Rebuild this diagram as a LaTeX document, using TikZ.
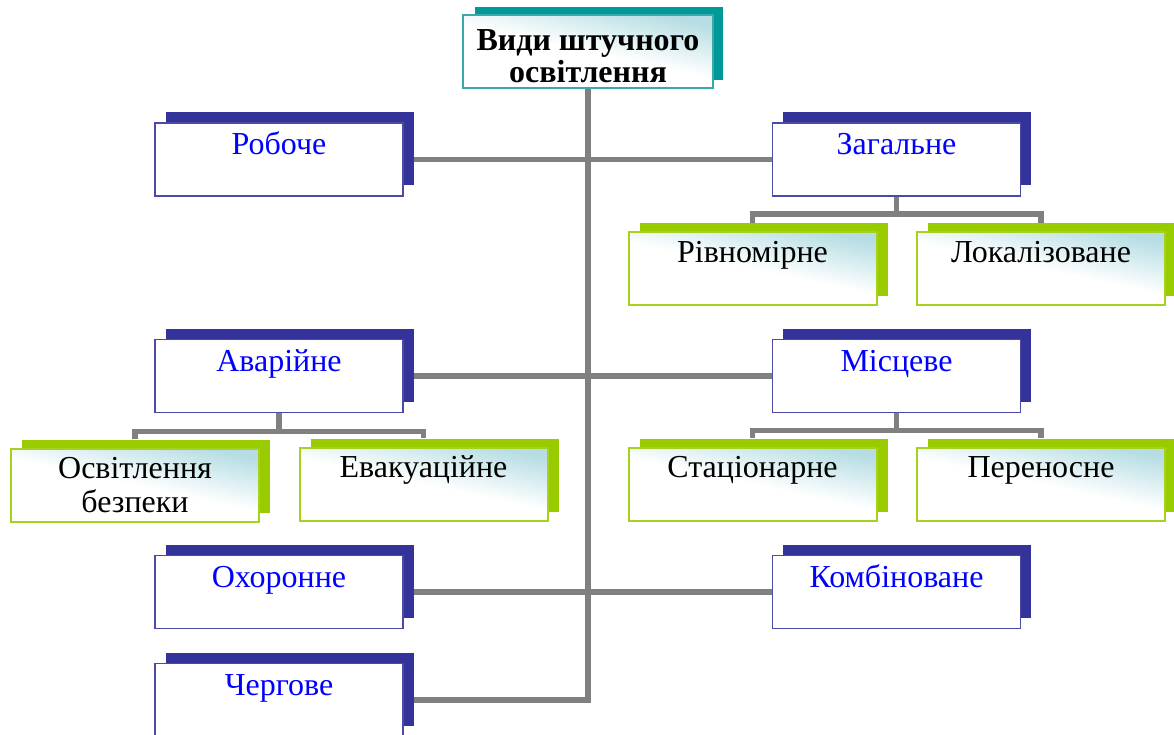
\documentclass[tikz,border=0pt]{standalone}
\usepackage{fontspec}
\setmainfont{Liberation Serif}

\definecolor{navy}{HTML}{333399}
\definecolor{navyline}{HTML}{4B4BA6}
\definecolor{lime}{HTML}{99CC00}
\definecolor{limeline}{HTML}{A6D21E}
\definecolor{tealback}{HTML}{009999}
\definecolor{tealline}{HTML}{3AA9A9}
\definecolor{haze}{HTML}{B5DDE3}
\definecolor{wire}{HTML}{808080}
\definecolor{labelblue}{HTML}{0000FF}

% a box is a solid back plate with a framed front plate shifted down-left
\newcommand\navypair[4]{%
  \node[navyback] (#1B) at (#2+10.5,#3-10.5) {};
  \node[navyfront] (#1) at (#2,#3) {#4};}
\newcommand\limepair[5][]{%
  \node[limeback] (#2B) at (#3+11,#4-9) {};
  \node[limefront,#1] (#2) at (#3,#4) {#5};}

\begin{document}
\begin{tikzpicture}[x=1pt,y=-1pt,
  plate/.style={rectangle, inner sep=0pt, minimum width=248pt, minimum height=73pt, align=center},
  navyback/.style={plate, fill=navy},
  navyfront/.style={plate, fill=white, draw=navyline, line width=1.5pt,
    text=labelblue, font=\fontsize{32}{35}\selectfont,
    text height=32pt, text depth=41pt},
  limeback/.style={plate, fill=lime},
  haze fill/.style={top color=haze, bottom color=white, middle color=white, shading angle=-12},
  limefront/.style={plate, draw=limeline, line width=2pt, haze fill,
    text=black, font=\fontsize{32}{34}\selectfont,
    text height=30pt, text depth=43pt},
  twolines/.style={text height=64pt, text depth=9pt},
  tealback/.style={plate, fill=tealback},
  tealfront/.style={plate, draw=tealline, line width=1.5pt, minimum width=250pt, haze fill,
    text=black, font=\fontsize{32}{32}\selectfont\bfseries,
    text height=68pt, text depth=5pt},
  wirestyle/.style={draw=wire, line width=5.5pt, line join=miter}
]
\useasboundingbox (0,0) rectangle (1174,735);
\clip (0,0) rectangle (1174,735);

% heading
\node[tealback] (titleB) at (598.5,44) {};
\node[tealfront] (title) at (588,51.5) {Види штучного\\освітлення};

% left column
\navypair{rob}{279}{159.5}{Робоче}
\navypair{ava}{279}{376}{Аварійне}
\navypair{okh}{279}{592}{Охоронне}
\navypair{cher}{279}{700}{Чергове}

% right column
\navypair{zag}{896.5}{159.5}{Загальне}
\navypair{mis}{896.5}{376}{Місцеве}
\navypair{komb}{896.5}{592}{Комбіноване}

% second level
\limepair{riv}{752.5}{268.5}{Рівномірне}
\limepair{lok}{1041}{268.5}{Локалізоване}
\limepair[twolines]{osv}{135}{485}{Освітлення\\безпеки}
\limepair{eva}{423.5}{484}{Евакуаційне}
\limepair{sta}{752.5}{484}{Стаціонарне}
\limepair{per}{1041}{484}{Переносне}

% trunk and branches
\draw[wirestyle] (title.south) -- (title.south |- cher.center) -- (cherB.east |- cher.center);
\draw[wirestyle] (robB.east |- rob.center) -- (zag.west);
\draw[wirestyle] (avaB.east |- ava.center) -- (mis.west);
\draw[wirestyle] (okhB.east |- okh.center) -- (komb.west);

% sub-branches
\draw[wirestyle] (zag.south) -- ++(0,18);
\draw[wirestyle] (rivB.north -| riv.north) -- ++(0,-9) -| (lokB.north -| lok.north);
\draw[wirestyle] (ava.south) -- ++(0,19);
\draw[wirestyle] (osvB.north -| osv.north) -- ++(0,-8) -| (evaB.north -| eva.north);
\draw[wirestyle] (mis.south) -- ++(0,19);
\draw[wirestyle] (staB.north -| sta.north) -- ++(0,-8) -| (perB.north -| per.north);
\end{tikzpicture}
\end{document}
